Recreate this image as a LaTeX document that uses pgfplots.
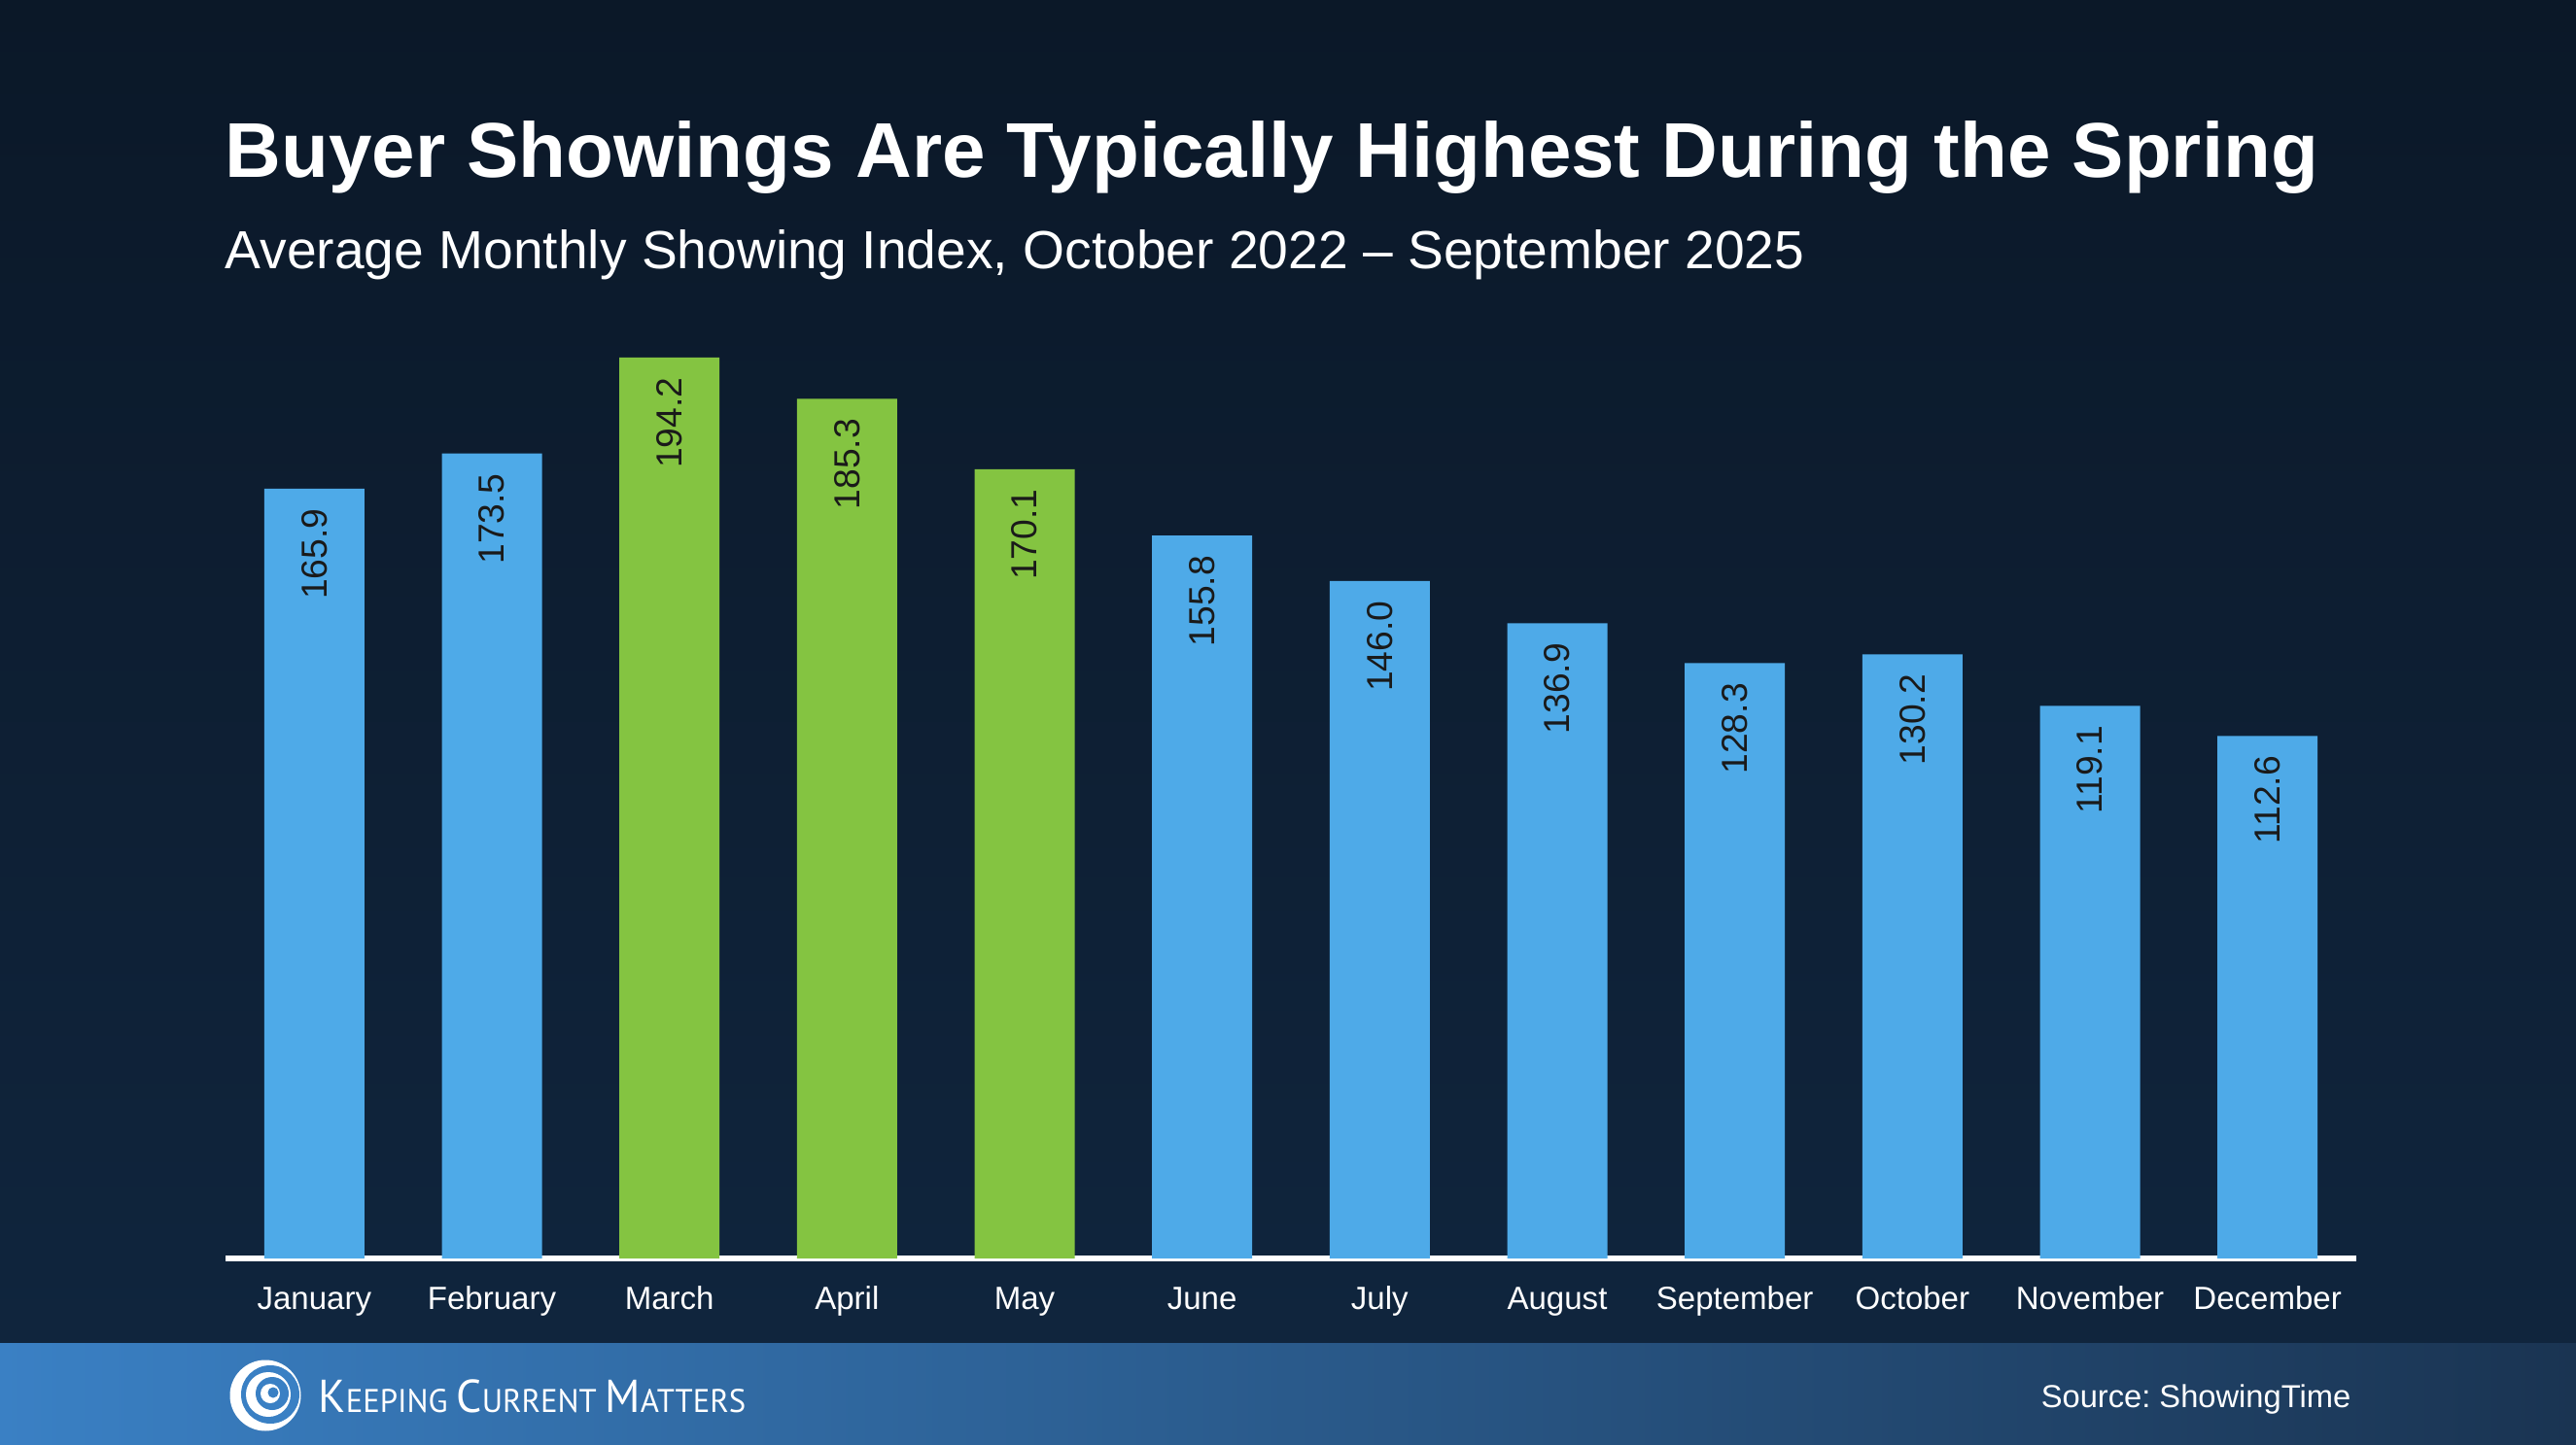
\documentclass[border=0pt]{standalone}
\usepackage{pgfplots}
\pgfplotsset{compat=1.18}
\usepackage{fontspec}
\setmainfont{Liberation Sans}
\newfontfamily\logofont{PT Sans}
\frenchspacing

\definecolor{bgtop}{HTML}{0B1828}
\definecolor{bgbot}{HTML}{10263F}
\definecolor{barblue}{HTML}{4EAAE8}
\definecolor{bargreen}{HTML}{84C441}
\definecolor{footl}{HTML}{3A80C4}
\definecolor{footr}{HTML}{1A3452}
\definecolor{lblcol}{HTML}{1A1A1A}

\begin{document}
\begin{tikzpicture}
\path[use as bounding box] (0,0) rectangle (26.5,14.86);
\shade[top color=bgtop, bottom color=bgbot] (0,0) rectangle (26.5,14.86);
\shade[left color=footl, right color=footr] (0,0) rectangle (26.5,1.04);

% titles
\node[anchor=base west, inner sep=0pt, text=white, font=\fontsize{22.75pt}{27pt}\selectfont\bfseries]
  at (2.31,13.03) {Buyer Showings Are Typically Highest During the Spring};
\node[anchor=base west, inner sep=0pt, text=white, font=\fontsize{15.7pt}{19pt}\selectfont]
  at (2.31,12.09) {Average Monthly Showing Index, October 2022 -- September 2025};

\begin{axis}[
  at={(2.32cm,1.91cm)}, anchor=south west,
  scale only axis,
  width=21.92cm, height=9.548cm,
  ybar, bar width=1.03cm, bar shift=0pt,
  xmin=-0.5, xmax=11.5, ymin=0, ymax=200,
  axis x line*=bottom,
  hide y axis,
  x axis line style={white, line width=0.6mm},
  xtick={0,...,11},
  xticklabels={January,February,March,April,May,June,July,August,September,October,November,December},
  major tick length=0pt,
  xticklabel style={anchor=base, inner sep=0pt, yshift=-0.52cm, text=white, font=\fontsize{9.4pt}{11pt}\selectfont},
  nodes near coords,
  nodes near coords style={rotate=90, anchor=east, inner xsep=0.2cm, inner ysep=0pt, text=lblcol,
    font=\fontsize{10.6pt}{12pt}\selectfont,
    /pgf/number format/.cd, fixed, fixed zerofill, precision=1, assume math mode=true},
  clip=false,
]
\addplot[draw=none, fill=barblue] coordinates {(0,165.9) (1,173.5) (5,155.8) (6,146.0) (7,136.9) (8,128.3) (9,130.2) (10,119.1) (11,112.6)};
\addplot[draw=none, fill=bargreen] coordinates {(2,194.2) (3,185.3) (4,170.1)};
\end{axis}

% footer
\begin{scope}[shift={(2.73,0.50)}]
  \fill[white] (0,0) circle (0.365);
  \fill[footl] (0.05,0.01) circle (0.30);
  \fill[white] (0.03,0.01) circle (0.23);
  \fill[footl] (0.07,0.02) circle (0.17);
  \fill[white] (0.05,0.02) circle (0.10);
  \fill[footl] (0.08,0.03) circle (0.055);
\end{scope}
\node[anchor=base west, inner sep=0pt, text=white] at (3.27,0.33)
  {\logofont\scalebox{0.97}[1]{\fontsize{13.5pt}{15pt}\selectfont K\fontsize{9.6pt}{11pt}\selectfont EEPING
   \fontsize{13.5pt}{15pt}\selectfont C\fontsize{9.6pt}{11pt}\selectfont URRENT
   \fontsize{13.5pt}{15pt}\selectfont M\fontsize{9.6pt}{11pt}\selectfont ATTERS}};
\node[anchor=base east, inner sep=0pt, text=white, font=\fontsize{9.3pt}{11pt}\selectfont]
  at (24.19,0.38) {Source: ShowingTime};
\end{tikzpicture}
\end{document}
